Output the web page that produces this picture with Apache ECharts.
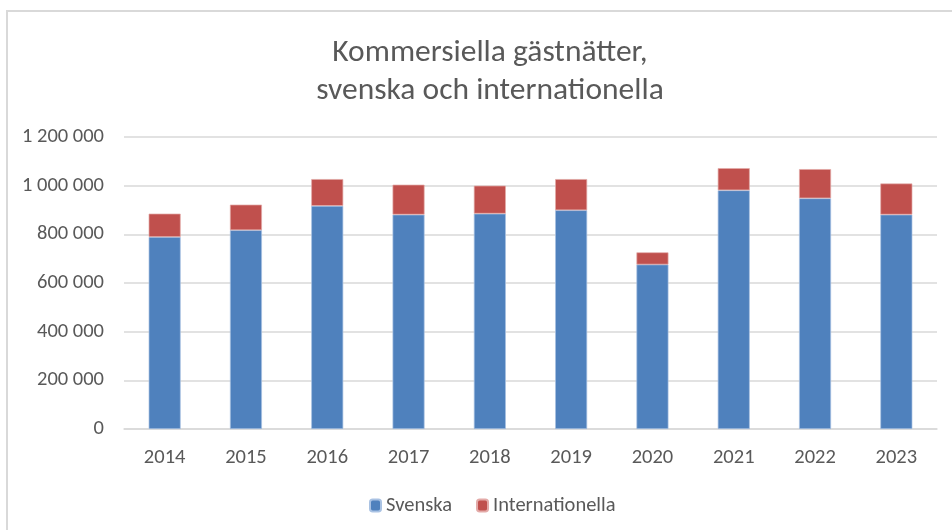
<!DOCTYPE html>
<html><head><meta charset="utf-8">
<script src="https://cdn.jsdelivr.net/npm/echarts@6/dist/echarts.min.js"></script>
<style>html,body{margin:0;padding:0;background:#fff}#c{width:952px;height:530px}</style>
</head><body><div id="c"></div>
<script>
const categories = ['2014','2015','2016','2017','2018','2019','2020','2021','2022','2023'];
const svenska = [789000, 817000, 917000, 881000, 885000, 899000, 676000, 981000, 948000, 881000];
const internationella = [96000, 105000, 110000, 123000, 115000, 128000, 50000, 91000, 120000, 128000];
const yTicks = [0, 200000, 400000, 600000, 800000, 1000000, 1200000];
const FONT = 'Carlito, "Liberation Sans Narrow", "Open Sans", sans-serif';
const fmt = v => String(v).replace(/\B(?=(\d{3})+(?!\d))/g, ' ');
const chart = echarts.init(document.getElementById('c'));
chart.setOption({
  animation: false,
  graphic: [{type:'rect', shape:{x:7, y:11, width:960, height:540}, style:{fill:'none', stroke:'#d9d9d9', lineWidth:2}}],
  title: {
    text: 'Kommersiella gästnätter,\nsvenska och internationella',
    left: 485, top: 29, textAlign: 'center',
    textStyle: {fontFamily: FONT, fontSize: 31.5, fontWeight: 'normal', color: '#595959', lineHeight: 38}
  },
  legend: {
    top: 490, left: 364, itemWidth: 11, itemHeight: 12, itemGap: 24,
    textStyle: {fontFamily: FONT, fontSize: 20.5, color: '#595959'},
    data: ['Svenska', 'Internationella']
  },
  grid: {left: 124, right: 15, top: 137, bottom: 101, containLabel: false},
  xAxis: {
    type: 'category', data: categories,
    axisLine: {lineStyle: {color: '#d9d9d9', width: 1.5}},
    axisTick: {show: false},
    axisLabel: {fontFamily: FONT, fontSize: 20.5, color: '#595959', margin: 18}
  },
  yAxis: {
    type: 'value', min: yTicks[0], max: yTicks[yTicks.length-1], interval: 200000,
    axisLine: {show: false}, axisTick: {show: false},
    splitLine: {lineStyle: {color: '#d9d9d9', width: 1.5}},
    axisLabel: {fontFamily: FONT, fontSize: 20.5, color: '#595959', margin: 20, formatter: fmt}
  },
  series: [
    {name: 'Svenska', type: 'bar', stack: 't', data: svenska, barWidth: 32,
     itemStyle: {color: '#4f81bd', borderColor: '#a9c2e3', borderWidth: 0.7}},
    {name: 'Internationella', type: 'bar', stack: 't', data: internationella, barWidth: 32,
     itemStyle: {color: '#c0504d', borderColor: '#e3aaa8', borderWidth: 0.7}}
  ]
});
</script></body></html>
